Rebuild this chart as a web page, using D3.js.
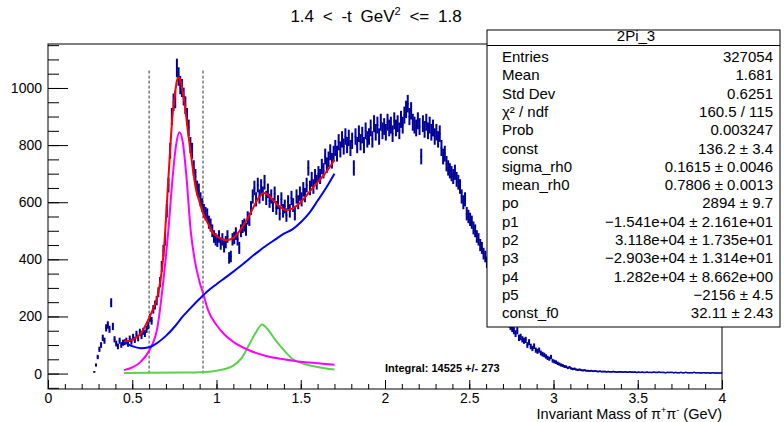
<!DOCTYPE html>
<html lang="en">
<head>
<meta charset="UTF-8">
<title>2Pi_3</title>
<script src="https://cdn.jsdelivr.net/npm/d3@7"></script>
<style>
body { margin: 0; background: #fff; }
svg { font-family: "Liberation Sans", Arial, sans-serif; }
</style>
</head>
<body>
<svg id="chart" width="784" height="422"></svg>
<script>
// histogram: 0.01 GeV bins, first filled bin starts at 0.27
var binStart = 0.27;
var binWidth = 0.01;
var counts = [
  6, 30, 58,
  85, 100, 125, 115, 160, 170, 155, 248, 165, 120,
  105, 95, 115, 100, 108, 110, 115, 104, 122, 112,
  128, 118, 138, 124, 145, 132, 148, 140, 155, 168,
  195, 185, 225, 240, 255, 285, 320, 375, 430, 470,
  570, 660, 780, 900, 950, 960, 1070, 1040, 1010, 1000,
  970, 940, 900, 860, 800, 780, 720, 690, 650, 640,
  610, 590, 570, 560, 555, 530, 520, 500, 480, 470,
  465, 480, 455, 470, 445, 460, 480, 405, 410, 470,
  475, 490, 470, 440, 500, 515, 520, 505, 545, 540,
  580, 620, 650, 610, 660, 620, 655, 630, 670, 615,
  640, 605, 620, 590, 630, 580, 600, 560, 610, 570,
  585, 555, 600, 570, 615, 590, 560, 620, 600, 630,
  610, 645, 625, 660, 720, 650, 680, 655, 690, 670,
  700, 690, 725, 710, 760, 730, 750, 775, 745, 770,
  790, 770, 810, 785, 820, 795, 830, 800, 825, 790,
  815, 720, 830, 800, 840, 810, 835, 800, 850, 820,
  830, 860, 820, 875, 845, 870, 830, 880, 850, 865,
  845, 880, 860, 870, 840, 885, 860, 875, 850, 890,
  870, 905, 925, 945, 900, 920, 880, 870, 860, 885,
  865, 760, 875, 855, 880, 850, 870, 845, 860, 830,
  845, 820, 840, 790, 760, 770, 735, 720, 710, 700,
  690, 705, 680, 670, 655, 620, 600, 610, 560, 550,
  540, 530, 510, 500, 480, 470, 450, 440, 420, 410,
  390, 370, 350, 330, 310, 290, 270, 250, 235, 220,
  205, 195, 185, 175, 165, 158, 150, 140, 150, 125,
  128, 120, 115, 118, 100, 110, 95, 88, 96, 82,
  78, 82, 72, 68, 65, 60, 55, 52, 58, 45,
  42, 40, 36, 33, 30, 28, 25, 24, 20, 22,
  18, 16, 17, 14, 13, 14, 12, 11, 12, 10,
  10, 9, 10, 8, 9, 8, 7, 8, 7, 7,
  7, 6, 7, 6, 6, 7, 6, 5, 6, 6,
  6, 5, 6, 5, 5, 6, 5, 5, 5, 4,
  5, 4, 5, 4, 4, 5, 4, 4, 4, 5,
  4, 4, 5, 4, 4, 4, 3, 4, 4, 4,
  4, 3, 4, 3, 3, 4, 3, 3, 4, 3,
  3, 3, 3, 4, 3, 3, 3, 2, 3, 3,
  2, 3, 2, 2, 3, 2, 2, 2, 2, 2
];

// fit curves: [mass, counts]
var fitTotal = [[0.45,112],[0.5,118],[0.55,140],[0.6,195],[0.625,228],[0.65,270],[0.675,360],
  [0.69,450],[0.70,540],[0.71,640],[0.725,785],[0.74,910],[0.75,960],[0.765,1025],[0.775,1037],
  [0.785,1030],[0.80,985],[0.813,935],[0.83,850],[0.85,760],[0.863,702],[0.88,640],[0.9,600],
  [0.92,562],[0.95,525],[0.98,492],[1.0,482],[1.03,472],[1.06,467],[1.1,475],[1.15,510],
  [1.2,560],[1.25,615],[1.28,632],[1.3,628],[1.35,598],[1.4,575],[1.42,572],[1.45,578],
  [1.5,600],[1.55,635],[1.6,670],[1.65,705],[1.7,748]];
var rhoCurve = [[0.45,12],[0.5,22],[0.55,41],[0.6,80],[0.65,164],[0.685,327],[0.714,500],
  [0.74,690],[0.76,800],[0.78,845],[0.80,810],[0.82,700],[0.847,500],[0.87,400],[0.9,320],
  [0.92,282],[0.95,222],[1.0,170],[1.05,135],[1.1,111],[1.2,80],[1.3,61],[1.4,50],[1.5,41],
  [1.6,36],[1.7,31]];
var f0Curve = [[0.45,2],[0.6,3],[0.8,4],[0.9,5],[1.0,10],[1.05,16],[1.1,28],[1.15,55],
  [1.2,108],[1.235,145],[1.27,172],[1.3,158],[1.35,117],[1.4,82],[1.45,52],[1.5,38],
  [1.55,29],[1.6,23],[1.65,18],[1.7,14]];
var bkgCurve = [[0.45,111],[0.5,96],[0.55,89],[0.6,92],[0.65,108],[0.7,132],[0.75,163],
  [0.8,200],[0.85,232],[0.9,262],[0.95,290],[1.0,313],[1.05,335],[1.1,357],[1.15,380],
  [1.2,405],[1.25,428],[1.3,450],[1.35,470],[1.4,490],[1.45,505],[1.5,530],[1.55,562],
  [1.6,605],[1.65,650],[1.7,700]];

var rangeLines = [0.6, 0.92];
var rangeLineTop = 1065;

var xTicks = [0, 0.5, 1, 1.5, 2, 2.5, 3, 3.5, 4];
var yTicks = [0, 200, 400, 600, 800, 1000];

var statNames = ["Entries", "Mean", "Std Dev", "\u03c7\u00b2 / ndf", "Prob", "const", "sigma_rh0",
  "mean_rh0", "po", "p1", "p2", "p3", "p4", "p5", "const_f0"];
var statValues = ["327054", "1.681", "0.6251", "160.5 / 115", "0.003247", "136.2 \u00b1 3.4",
  "0.1615 \u00b1 0.0046", "0.7806 \u00b1 0.0013", "2894 \u00b1 9.7",
  "\u22121.541e+04 \u00b1 2.161e+01", "3.118e+04 \u00b1 1.735e+01", "\u22122.903e+04 \u00b1 1.314e+01",
  "1.282e+04 \u00b1 8.662e+00", "\u22122156 \u00b1 4.5", "32.11 \u00b1 2.43"];
var integralLabel = "Integral: 14525 +/- 273";

var svg = d3.select('#chart');

var x = d3.scaleLinear().domain([0, 4]).range([48, 722]);
var y = d3.scaleLinear().domain([-54, 1154]).range([389, 44]);

// histogram with error bars
var bins = counts.map(function (c, i) {
  var lo = binStart + i * binWidth;
  return { lo: lo, hi: lo + binWidth, mid: lo + binWidth / 2, c: c, e: Math.sqrt(c) };
}).filter(function (d) { return d.c > 0; });

var hist = svg.append('g').attr('stroke', '#000099').attr('stroke-width', 2);
hist.selectAll('line.err').data(bins).enter().append('line')
  .attr('class', 'err')
  .attr('x1', function (d) { return x(d.mid); })
  .attr('x2', function (d) { return x(d.mid); })
  .attr('y1', function (d) { return y(d.c - d.e); })
  .attr('y2', function (d) { return y(d.c + d.e); });
hist.selectAll('line.bin').data(bins).enter().append('line')
  .attr('class', 'bin')
  .attr('stroke-width', 1.5)
  .attr('x1', function (d) { return x(d.lo); })
  .attr('x2', function (d) { return x(d.hi); })
  .attr('y1', function (d) { return y(d.c); })
  .attr('y2', function (d) { return y(d.c); });

// fit range markers
svg.selectAll('line.range').data(rangeLines).enter().append('line')
  .attr('class', 'range')
  .attr('x1', function (d) { return x(d); })
  .attr('x2', function (d) { return x(d); })
  .attr('y1', y(0))
  .attr('y2', y(rangeLineTop))
  .attr('stroke', '#333')
  .attr('stroke-width', 1)
  .attr('stroke-dasharray', '3,2');

var line = d3.line()
  .x(function (d) { return x(d[0]); })
  .y(function (d) { return y(d[1]); })
  .curve(d3.curveMonotoneX);

var curves = [
  { data: f0Curve, color: '#5ad24a' },
  { data: rhoCurve, color: '#ff00ff' },
  { data: bkgCurve, color: '#0000ff' },
  { data: fitTotal, color: '#ff0000' }
];
svg.selectAll('path.fit').data(curves).enter().append('path')
  .attr('class', 'fit')
  .attr('d', function (d) { return line(d.data); })
  .attr('fill', 'none')
  .attr('stroke', function (d) { return d.color; })
  .attr('stroke-width', 2);

// axes, ticks pointing inside like ROOT
function styleAxis(g) {
  g.select('.domain').remove();
  g.selectAll('text').attr('font-size', 14).attr('font-family', '"Liberation Sans", Arial, sans-serif').attr('fill', '#000');
  g.selectAll('line').attr('stroke', '#000');
}

svg.append('g').attr('transform', 'translate(48,0)')
  .call(d3.axisLeft(y).tickValues(d3.range(-50, 1151, 50)).tickSize(-11).tickFormat(''))
  .call(styleAxis);
svg.append('g').attr('transform', 'translate(48,0)')
  .call(d3.axisLeft(y).tickValues(yTicks).tickSize(-20).tickPadding(6).tickFormat(d3.format('d')))
  .call(styleAxis);

svg.append('g').attr('transform', 'translate(0,389)')
  .call(d3.axisBottom(x).tickValues(d3.range(0, 4.001, 0.1)).tickSize(-5).tickFormat(''))
  .call(styleAxis);
svg.append('g').attr('transform', 'translate(0,389)')
  .call(d3.axisBottom(x).tickValues(xTicks).tickSize(-9).tickPadding(4).tickFormat(d3.format('~g')))
  .call(styleAxis);

// frame
svg.append('rect')
  .attr('x', 48).attr('y', 44).attr('width', 674).attr('height', 345)
  .attr('fill', 'none').attr('stroke', '#000').attr('stroke-width', 1);

// title
var title = svg.append('text')
  .attr('x', 376).attr('y', 22)
  .attr('text-anchor', 'middle')
  .attr('font-size', 17)
  .attr('word-spacing', 4);
title.append('tspan').text('1.4 < -t GeV');
title.append('tspan').attr('font-size', 11).attr('dy', -7).text('2');
title.append('tspan').attr('dy', 7).text(' <= 1.8');

// axis title
var xt = svg.append('text')
  .attr('x', 722).attr('y', 419)
  .attr('text-anchor', 'end')
  .attr('font-size', 14.5);
xt.append('tspan').text('Invariant Mass of \u03c0');
xt.append('tspan').attr('font-size', 9).attr('dy', -6).text('+');
xt.append('tspan').attr('dy', 6).text('\u03c0');
xt.append('tspan').attr('font-size', 9).attr('dy', -6).text('-');
xt.append('tspan').attr('dy', 6).text(' (GeV)');

// integral label
svg.append('text')
  .attr('x', 385).attr('y', 372)
  .attr('font-size', 11).attr('font-weight', 'bold')
  .text(integralLabel);

// stats box
var box = svg.append('g');
box.append('rect')
  .attr('x', 487).attr('y', 30).attr('width', 293).attr('height', 297)
  .attr('fill', '#fff').attr('stroke', '#000').attr('stroke-width', 1);
box.append('line')
  .attr('x1', 487).attr('x2', 780).attr('y1', 45.5).attr('y2', 45.5)
  .attr('stroke', '#000');
box.append('text')
  .attr('x', 636).attr('y', 41)
  .attr('text-anchor', 'middle').attr('font-size', 15)
  .text('2Pi_3');
box.selectAll('text.name').data(statNames).enter().append('text')
  .attr('class', 'name')
  .attr('x', 502)
  .attr('y', function (d, i) { return 62 + i * 18.3; })
  .attr('font-size', 15)
  .text(function (d) { return d; });
box.selectAll('text.val').data(statValues).enter().append('text')
  .attr('class', 'val')
  .attr('x', 773)
  .attr('y', function (d, i) { return 62 + i * 18.3; })
  .attr('text-anchor', 'end')
  .attr('font-size', 15)
  .text(function (d) { return d; });
</script>
</body>
</html>
